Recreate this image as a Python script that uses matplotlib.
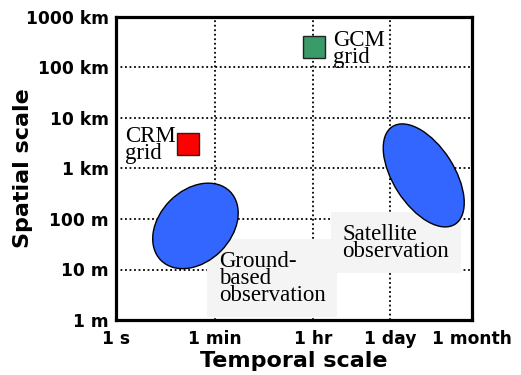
import matplotlib
matplotlib.use("Agg")
import matplotlib.pyplot as plt
import matplotlib.transforms as mt
from matplotlib.patches import Ellipse

# ---- data ----
x_ticks = [1, 60, 3600, 86400, 2592000]
x_labels = ["1 s", "1 min", "1 hr", "1 day", "1 month"]
y_ticks = [1, 10, 100, 1e3, 1e4, 1e5, 1e6]
y_labels = ["1 m", "10 m", "100 m", "1 km", "10 km", "100 km", "1000 km"]

# model grids: (time scale s, spatial scale m)
crm_grid = (20.0, 3000.0)
gcm_grid = (3700.0, 2.55e5)

# observation regions: centre (s, m)
ground_obs = (27.0, 73.0)
satellite_obs = (3.5e5, 730.0)

fig = plt.figure(figsize=(5.21, 3.75), dpi=100)
ax = fig.add_axes([116/521, 55/375, (472-116)/521, (320-17)/375])
ax.set_xscale("log")
ax.set_yscale("log")
ax.set_xlim(x_ticks[0], x_ticks[-1])
ax.set_ylim(y_ticks[0], y_ticks[-1])
ax.set_xticks(x_ticks)
ax.set_xticklabels(x_labels)
ax.set_yticks(y_ticks)
ax.set_yticklabels(y_labels)
ax.minorticks_off()
ax.tick_params(length=0, labelsize=12.3, pad=7)
for lab in ax.get_xticklabels() + ax.get_yticklabels():
    lab.set_fontweight("bold")
ax.tick_params(axis="y", pad=5)

for s in ax.spines.values():
    s.set_linewidth(2.3)
    s.set_zorder(10)

# grid
for xv in x_ticks[1:-1]:
    ax.axvline(xv, color="black", lw=1.3, ls=(0, (1, 1.5)), zorder=1)
for yv in y_ticks[1:-1]:
    ax.axhline(yv, color="black", lw=1.3, ls=(0, (1, 1.5)), zorder=1)

ax.set_xlabel("Temporal scale", fontsize=16, fontweight="bold", va="center")
ax.set_ylabel("Spatial scale", fontsize=16, fontweight="bold", va="center")
ax.xaxis.set_label_coords(0.5, -0.135)
ax.yaxis.set_label_coords(-0.262, 0.5)

# squares
ax.plot([crm_grid[0]], [crm_grid[1]], marker="s", ms=15.5, mfc="#ff0000",
        mec="#222222", mew=1.0, ls="none", zorder=5)
ax.plot([gcm_grid[0]], [gcm_grid[1]], marker="s", ms=16, mfc="#3a9a68",
        mec="#222222", mew=1.0, ls="none", zorder=5)

def blob(center, w_in, h_in, ang):
    tr = fig.dpi_scale_trans + mt.ScaledTranslation(center[0], center[1], ax.transData)
    e = Ellipse((0, 0), w_in, h_in, angle=ang, transform=tr,
                facecolor="#3366ff", edgecolor="black", lw=1.0, zorder=6)
    ax.add_patch(e)

blob(ground_obs, 0.975, 0.715, 45)
blob(satellite_obs, 1.16, 0.61, -57.3)

serif = "Liberation Serif"
box = dict(boxstyle="square,pad=0.5", facecolor="#f4f4f4", edgecolor="none")
ax.text(71, 23.5, "Ground-\nbased\nobservation", family=serif, fontsize=16.5,
        ha="left", va="top", linespacing=0.75, bbox=box, zorder=4)
ax.text(12100, 80, "Satellite\nobservation", family=serif, fontsize=16.5,
        ha="left", va="top", linespacing=0.75, bbox=box, zorder=4)
ax.text(1.45, 7100, "CRM\ngrid", family=serif, fontsize=16.5,
        ha="left", va="top", linespacing=0.75, zorder=4)
ax.text(8000, 5.6e5, "GCM\ngrid", family=serif, fontsize=16.5,
        ha="left", va="top", linespacing=0.75, zorder=4)

fig.savefig("out.png", dpi=100)
